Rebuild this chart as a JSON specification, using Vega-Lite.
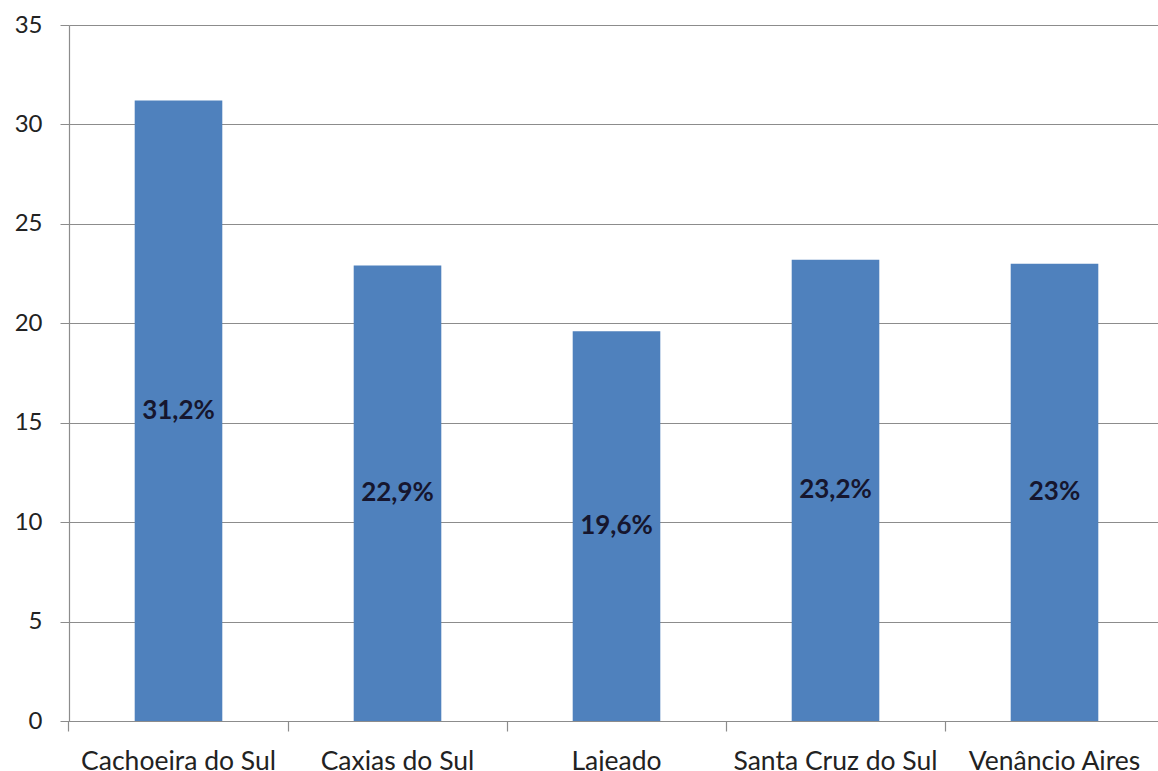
{
  "$schema": "https://vega.github.io/schema/vega-lite/v6.json",
  "width": 1089,
  "height": 696,
  "autosize": {"type": "none"},
  "padding": {"left": 69, "top": 25, "right": 0, "bottom": 50},
  "background": "white",
  "config": {
    "view": {"stroke": null},
    "font": "Lato"
  },
  "data": {
    "values": [
      {"city": "Cachoeira do Sul", "value": 31.2, "label": "31,2%"},
      {"city": "Caxias do Sul", "value": 22.9, "label": "22,9%"},
      {"city": "Lajeado", "value": 19.6, "label": "19,6%"},
      {"city": "Santa Cruz do Sul", "value": 23.2, "label": "23,2%"},
      {"city": "Venâncio Aires", "value": 23.0, "label": "23%"}
    ]
  },
  "layer": [
    {
      "mark": {"type": "bar", "color": "#4F81BD"},
      "encoding": {
        "x": {
          "field": "city",
          "type": "nominal",
          "sort": null,
          "scale": {"range": [0, 1095], "paddingInner": 0.6, "paddingOuter": 0.3},
          "axis": {
            "orient": "bottom",
            "title": null,
            "ticks": false,
            "labelAngle": 0,
            "labelFont": "Lato",
            "labelFontSize": 26.5,
            "labelColor": "#222222",
            "labelBaseline": "alphabetic",
            "labelPadding": 48,
            "labelOverlap": false,
            "labelLimit": 0,
            "domainColor": "#8c8c8c",
            "domainWidth": 1.2
          }
        },
        "y": {
          "field": "value",
          "type": "quantitative",
          "scale": {"domain": [0, 35], "nice": false},
          "axis": {
            "title": null,
            "values": [0, 5, 10, 15, 20, 25, 30, 35],
            "labelFont": "Lato",
            "labelFontSize": 24,
            "labelColor": "#222222",
            "labelPadding": 18,
            "tickSize": 9,
            "tickColor": "#8c8c8c",
            "domainColor": "#8c8c8c",
            "domainWidth": 1.2,
            "gridColor": "#8c8c8c",
            "gridWidth": 1.2
          }
        }
      }
    },
    {
      "mark": {
        "type": "text",
        "font": "Lato",
        "fontWeight": "bold",
        "fontSize": 26,
        "color": "#16162e",
        "baseline": "middle",
        "align": "center"
      },
      "encoding": {
        "x": {
          "field": "city",
          "type": "nominal",
          "sort": null,
          "axis": {
            "orient": "bottom",
            "title": null,
            "labels": false,
            "domain": false,
            "grid": false,
            "ticks": true,
            "tickSize": 10,
            "tickColor": "#8c8c8c",
            "tickWidth": 1.2,
            "bandPosition": -0.75
          }
        },
        "y": {
          "field": "value",
          "type": "quantitative",
          "scale": {"domain": [0, 70], "nice": false},
          "axis": null
        },
        "text": {"field": "label"}
      }
    }
  ],
  "resolve": {"scale": {"y": "independent"}, "axis": {"x": "independent"}}
}
